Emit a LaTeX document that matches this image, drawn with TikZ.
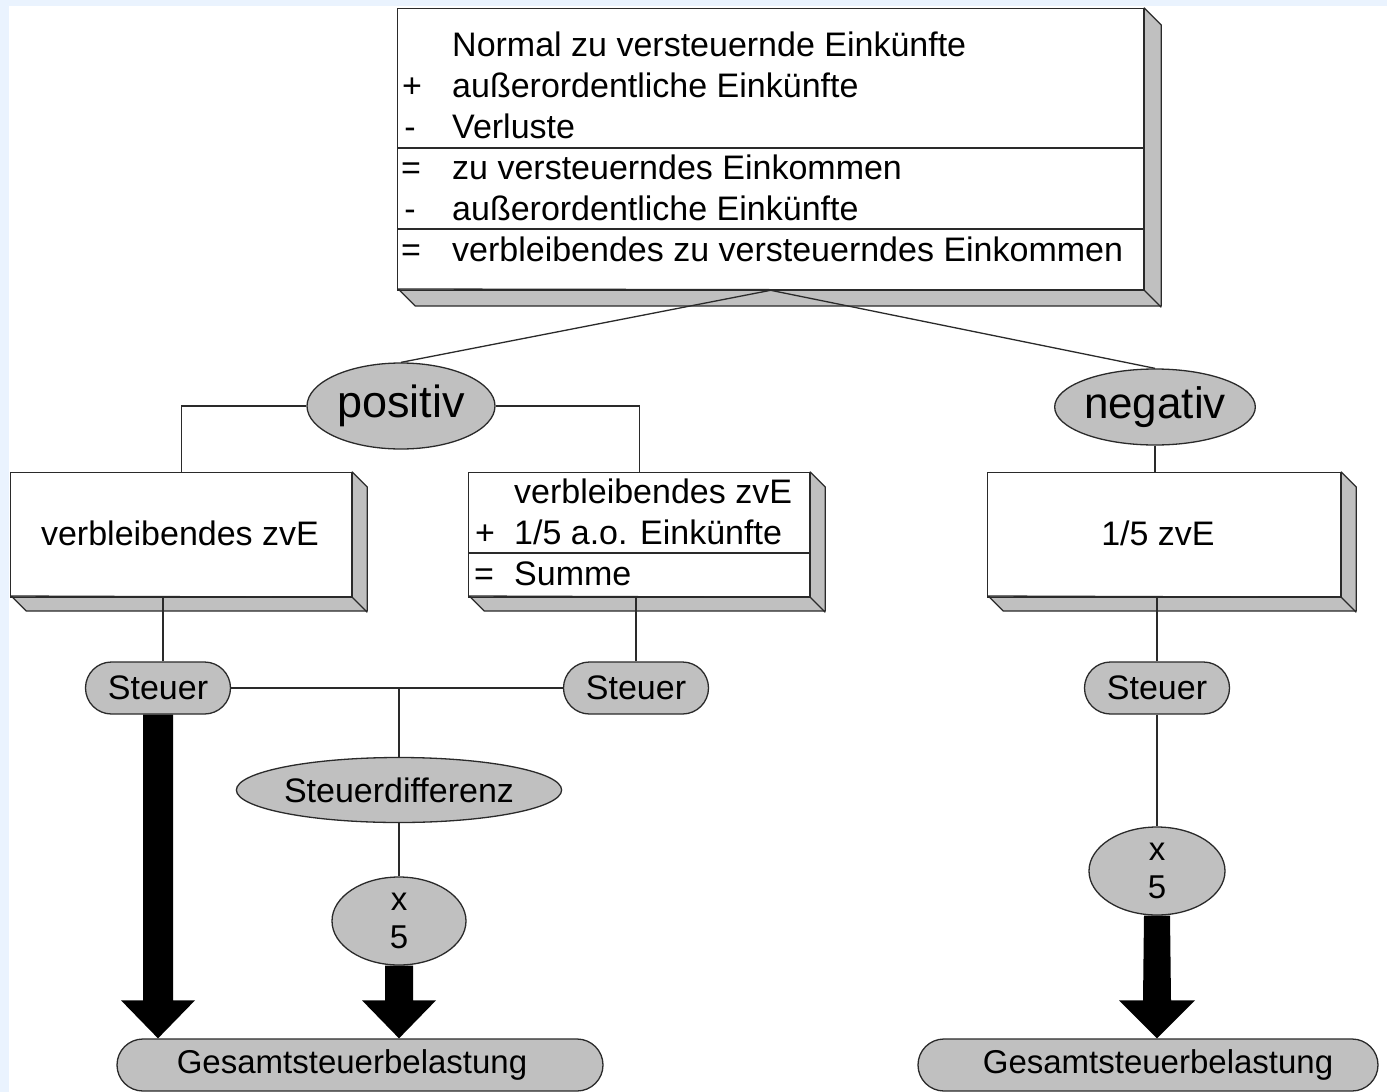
\documentclass[tikz,border=0pt]{standalone}
\usepackage{fontspec}
\setmainfont{Liberation Sans}
\usetikzlibrary{shapes.geometric,calc}
\definecolor{bgblue}{HTML}{EAF3FE}
\definecolor{slabgray}{HTML}{C0C0C0}
\definecolor{ink}{HTML}{2A2A2A}

\begin{document}
\begin{tikzpicture}[x=1pt,y=-1pt,
  line/.style={draw=ink, line width=1.3pt},
  panel/.style={draw=ink, line width=1.3pt, fill=white, rectangle, inner sep=0pt, anchor=north west},
  side/.style={fill=slabgray, draw=ink, line width=1.3pt, line join=round},
  oval/.style={ellipse, draw=ink, line width=1.3pt, fill=slabgray, inner sep=0pt, text=black},
  pill/.style={rectangle, rounded corners=26pt, draw=ink, line width=1.3pt, fill=slabgray, inner sep=0pt,
               minimum height=52pt, text=black, font=\fontsize{33}{38}\selectfont},
  txt/.style={inner sep=0pt, text=black, font=\fontsize{34}{41}\selectfont, anchor=base west},
  sym/.style={inner sep=0pt, text=black, font=\fontsize{34}{41}\selectfont, anchor=base},
  bigarrow/.style={fill=black},
]
\useasboundingbox (0,0) rectangle (1387,1092);
\clip (0,0) rectangle (1387,1092);

% page background
\fill[bgblue] (0,0) rectangle (1387,1092);
\fill[white] (9,6) rectangle (1387,1092);

% ---------- top calculation panel ----------
\node[panel, minimum width=746pt, minimum height=281pt] (top) at (397,8) {};
\fill[side] (top.north east) -- ++(17,17) -- ++(0,281) -- ++(-746,0) -- ++(-17,-17)
  -- (top.south east) -- cycle;
\draw[line] (top.south west) -- (top.south east) -- ++(17,17);
\draw[line] (top.north west |- 0,148) -- (top.north east |- 0,148);
\draw[line] (top.north west |- 0,229) -- (top.north east |- 0,229);
\node[txt] (t1) at (452,56)  {Normal zu versteuernde Einkünfte};
\node[sym] (s2) at (412,97)  {+};
\node[txt] (t2) at (452,97)  {außerordentliche Einkünfte};
\node[sym] (s3) at (410,138) {-};
\node[txt] (t3) at (452,138) {Verluste};
\node[sym] (s4) at (411,179) {=};
\node[txt] (t4) at (452,179) {zu versteuerndes Einkommen};
\node[sym] (s5) at (410,220) {-};
\node[txt] (t5) at (452,220) {außerordentliche Einkünfte};
\node[sym] (s6) at (411,261) {=};
\node[txt] (t6) at (452,261) {verbleibendes zu versteuerndes Einkommen};

% ---------- case ovals ----------
\node[oval, minimum width=188pt, minimum height=86pt, font=\fontsize{45}{50}\selectfont] (pos) at (401,406) {\raisebox{-3pt}{positiv}};
\node[oval, minimum width=195pt, minimum height=76pt, font=\fontsize{44}{50}\selectfont] (neg) at (1155,407) {\raisebox{-2pt}{negativ}};

% ---------- second level panels ----------
\node[panel, minimum width=341pt, minimum height=124pt] (lbox) at (10,472) {};
\fill[side] (lbox.north east) -- ++(15,15) -- ++(0,124) -- ++(-341,0) -- ++(-15,-15)
  -- (lbox.south east) -- cycle;
\draw[line] (lbox.south west) -- (lbox.south east) -- ++(15,15);
\node[txt, anchor=base] (lt) at (180,545) {verbleibendes zvE};

\node[panel, minimum width=341pt, minimum height=124pt] (mbox) at (468,472) {};
\fill[side] (mbox.north east) -- ++(15,15) -- ++(0,124) -- ++(-341,0) -- ++(-15,-15)
  -- (mbox.south east) -- cycle;
\draw[line] (mbox.south west) -- (mbox.south east) -- ++(15,15);
\draw[line] (mbox.north west |- 0,553) -- (mbox.north east |- 0,553);
\node[txt] (m1) at (514,503) {verbleibendes zvE};
\node[sym] (ms2) at (485,544) {+};
\node[txt] (m2) at (514,544) {1/5 a.o. Einkünfte};
\node[sym] (ms3) at (484,585) {=};
\node[txt] (m3) at (514,585) {Summe};

\node[panel, minimum width=353pt, minimum height=124pt] (rbox) at (987,472) {};
\fill[side] (rbox.north east) -- ++(15,15) -- ++(0,124) -- ++(-353,0) -- ++(-15,-15)
  -- (rbox.south east) -- cycle;
\draw[line] (rbox.south west) -- (rbox.south east) -- ++(15,15);
\node[txt, anchor=base] (rt) at (1158,545) {1/5 zvE};

% ---------- tax nodes ----------
\node[pill, minimum width=145pt, font=\fontsize{34}{38}\selectfont] (stL) at (158,688) {Steuer};
\node[pill, minimum width=145pt, font=\fontsize{34}{38}\selectfont] (stM) at (636,688) {Steuer};
\node[pill, minimum width=145pt, font=\fontsize{34}{38}\selectfont] (stR) at (1157,688) {Steuer};

\node[oval, minimum width=324pt, minimum height=65pt, font=\fontsize{34}{38}\selectfont] (sd) at (399,790) {Steuerdifferenz};
\node[oval, minimum width=134pt, minimum height=88pt, align=center, font=\fontsize{33}{38}\selectfont] (x5m) at (399,921) {x\\5};
\node[oval, minimum width=136pt, minimum height=88pt, align=center, font=\fontsize{33}{38}\selectfont] (x5r) at (1157,871) {x\\5};

\node[pill, minimum width=486pt] (gesL) at (360,1065) {Gesamtsteuerbelastung\hspace*{16pt}};
\node[pill, minimum width=460pt] (gesR) at (1148,1065) {\hspace*{20pt}Gesamtsteuerbelastung};

% ---------- thin connectors ----------
\draw[line] (top.south) -- (pos.north);
\draw[line] (top.south) -- (neg.north);
\draw[line] (pos.west) -| (lbox.north);
\draw[line] (pos.east) -| (mbox.north);
\draw[line] (neg.south) -- (neg.south |- rbox.north);
\draw[line] ($(stL.north)+(5,0)$) -- ($(stL.north |- lbox.south)+(5,0)$);
\draw[line] (stM.north) -- (stM.north |- mbox.south);
\draw[line] (stR.north) -- (stR.north |- rbox.south);
\draw[line] (stL.east) -- (stM.west);
\draw[line] (sd.north |- stL.east) -- (sd.north);
\draw[line] (sd.south) -- (x5m.north);
\draw[line] (stR.south) -- (x5r.north);

% ---------- thick block arrows ----------
\coordinate (aL) at (stL.south);
\coordinate (eL) at (stL.south |- gesL.north);
\fill[bigarrow] ($(aL)+(-15,0)$) -- ($(eL)+(-15,-38)$) -- ($(eL)+(-37,-38)$) -- (eL)
  -- ($(eL)+(37,-38)$) -- ($(eL)+(15,-38)$) -- ($(aL)+(15,0)$) -- cycle;

\coordinate (aM) at (x5m.south);
\coordinate (eM) at (x5m.south |- gesL.north);
\fill[bigarrow] ($(aM)+(-14,0)$) -- ($(eM)+(-14,-38)$) -- ($(eM)+(-37,-38)$) -- (eM)
  -- ($(eM)+(37,-38)$) -- ($(eM)+(14,-38)$) -- ($(aM)+(14,0)$) -- cycle;

\coordinate (aR) at (x5r.south);
\coordinate (eR) at (x5r.south |- gesR.north);
\fill[bigarrow] ($(aR)+(-13,0)$) -- ($(eR)+(-14,-38)$) -- ($(eR)+(-38,-38)$) -- (eR)
  -- ($(eR)+(38,-38)$) -- ($(eR)+(14,-38)$) -- ($(aR)+(13,0)$) -- cycle;
\end{tikzpicture}
\end{document}
